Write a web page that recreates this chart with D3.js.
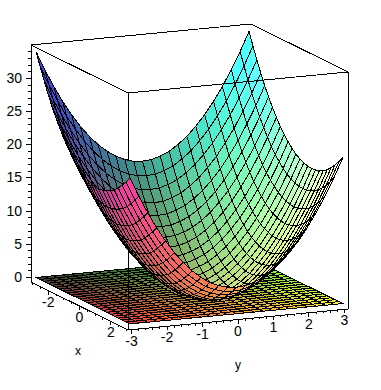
<!DOCTYPE html>
<html>
<head>
<meta charset="utf-8">
<script src="https://cdn.jsdelivr.net/npm/d3@7"></script>
<style>
  html, body { margin: 0; padding: 0; background: #fff; }
  svg { display: block; }
  text { font-family: "Liberation Sans", Arial, sans-serif; fill: #000; }
  .tick-label { font-size: 14px; }
  .axis-title { font-size: 12px; }
</style>
</head>
<body>
<svg id="chart" width="381" height="390"></svg>
<script>
// Paraboloid over a flat base plane, boxed 3D axes

// -----------------------------------------------------------------------------
// DATA
// -----------------------------------------------------------------------------

const xGrid = [-3, -2.75, -2.5, -2.25, -2, -1.75, -1.5, -1.25, -1, -0.75, -0.5, -0.25, 0, 0.25, 0.5, 0.75, 1, 1.25, 1.5, 1.75, 2, 2.25, 2.5, 2.75, 3];
const yGrid = [-3, -2.75, -2.5, -2.25, -2, -1.75, -1.5, -1.25, -1, -0.75, -0.5, -0.25, 0, 0.25, 0.5, 0.75, 1, 1.25, 1.5, 1.75, 2, 2.25, 2.5, 2.75, 3];

// one row per xGrid value, one column per yGrid value
const surfaceZ = [
  [34,31.1,28.5,26.1,24,22.1,20.5,19.1,18,17.1,16.5,16.1,16,16.1,16.5,17.1,18,19.1,20.5,22.1,24,26.1,28.5,31.1,34],
  [32.1,29.2,26.6,24.2,22.1,20.2,18.6,17.2,16.1,15.2,14.6,14.2,14.1,14.2,14.6,15.2,16.1,17.2,18.6,20.2,22.1,24.2,26.6,29.2,32.1],
  [30.3,27.4,24.8,22.4,20.3,18.4,16.8,15.4,14.3,13.4,12.8,12.4,12.3,12.4,12.8,13.4,14.3,15.4,16.8,18.4,20.3,22.4,24.8,27.4,30.3],
  [28.6,25.7,23.1,20.7,18.6,16.7,15.1,13.7,12.6,11.7,11.1,10.7,10.6,10.7,11.1,11.7,12.6,13.7,15.1,16.7,18.6,20.7,23.1,25.7,28.6],
  [27,24.1,21.5,19.1,17,15.1,13.5,12.1,11,10.1,9.5,9.1,9,9.1,9.5,10.1,11,12.1,13.5,15.1,17,19.1,21.5,24.1,27],
  [25.6,22.7,20.1,17.7,15.6,13.7,12.1,10.7,9.6,8.7,8.1,7.7,7.6,7.7,8.1,8.7,9.6,10.7,12.1,13.7,15.6,17.7,20.1,22.7,25.6],
  [24.3,21.4,18.8,16.4,14.3,12.4,10.8,9.4,8.3,7.4,6.8,6.4,6.3,6.4,6.8,7.4,8.3,9.4,10.8,12.4,14.3,16.4,18.8,21.4,24.3],
  [23.1,20.2,17.6,15.2,13.1,11.2,9.6,8.2,7.1,6.2,5.6,5.2,5.1,5.2,5.6,6.2,7.1,8.2,9.6,11.2,13.1,15.2,17.6,20.2,23.1],
  [22,19.1,16.5,14.1,12,10.1,8.5,7.1,6,5.1,4.5,4.1,4,4.1,4.5,5.1,6,7.1,8.5,10.1,12,14.1,16.5,19.1,22],
  [21.1,18.2,15.6,13.2,11.1,9.2,7.6,6.2,5.1,4.2,3.6,3.2,3.1,3.2,3.6,4.2,5.1,6.2,7.6,9.2,11.1,13.2,15.6,18.2,21.1],
  [20.3,17.4,14.8,12.4,10.3,8.4,6.8,5.4,4.3,3.4,2.8,2.4,2.3,2.4,2.8,3.4,4.3,5.4,6.8,8.4,10.3,12.4,14.8,17.4,20.3],
  [19.6,16.7,14.1,11.7,9.6,7.7,6.1,4.7,3.6,2.7,2.1,1.7,1.6,1.7,2.1,2.7,3.6,4.7,6.1,7.7,9.6,11.7,14.1,16.7,19.6],
  [19,16.1,13.5,11.1,9,7.1,5.5,4.1,3,2.1,1.5,1.1,1,1.1,1.5,2.1,3,4.1,5.5,7.1,9,11.1,13.5,16.1,19],
  [18.6,15.7,13.1,10.7,8.6,6.7,5.1,3.7,2.6,1.7,1.1,0.7,0.6,0.7,1.1,1.7,2.6,3.7,5.1,6.7,8.6,10.7,13.1,15.7,18.6],
  [18.3,15.4,12.8,10.4,8.3,6.4,4.8,3.4,2.3,1.4,0.8,0.4,0.3,0.4,0.8,1.4,2.3,3.4,4.8,6.4,8.3,10.4,12.8,15.4,18.3],
  [18.1,15.2,12.6,10.2,8.1,6.2,4.6,3.2,2.1,1.2,0.6,0.2,0.1,0.2,0.6,1.2,2.1,3.2,4.6,6.2,8.1,10.2,12.6,15.2,18.1],
  [18,15.1,12.5,10.1,8,6.1,4.5,3.1,2,1.1,0.5,0.1,0,0.1,0.5,1.1,2,3.1,4.5,6.1,8,10.1,12.5,15.1,18],
  [18.1,15.2,12.6,10.2,8.1,6.2,4.6,3.2,2.1,1.2,0.6,0.2,0.1,0.2,0.6,1.2,2.1,3.2,4.6,6.2,8.1,10.2,12.6,15.2,18.1],
  [18.3,15.4,12.8,10.4,8.3,6.4,4.8,3.4,2.3,1.4,0.8,0.4,0.3,0.4,0.8,1.4,2.3,3.4,4.8,6.4,8.3,10.4,12.8,15.4,18.3],
  [18.6,15.7,13.1,10.7,8.6,6.7,5.1,3.7,2.6,1.7,1.1,0.7,0.6,0.7,1.1,1.7,2.6,3.7,5.1,6.7,8.6,10.7,13.1,15.7,18.6],
  [19,16.1,13.5,11.1,9,7.1,5.5,4.1,3,2.1,1.5,1.1,1,1.1,1.5,2.1,3,4.1,5.5,7.1,9,11.1,13.5,16.1,19],
  [19.6,16.7,14.1,11.7,9.6,7.7,6.1,4.7,3.6,2.7,2.1,1.7,1.6,1.7,2.1,2.7,3.6,4.7,6.1,7.7,9.6,11.7,14.1,16.7,19.6],
  [20.3,17.4,14.8,12.4,10.3,8.4,6.8,5.4,4.3,3.4,2.8,2.4,2.3,2.4,2.8,3.4,4.3,5.4,6.8,8.4,10.3,12.4,14.8,17.4,20.3],
  [21.1,18.2,15.6,13.2,11.1,9.2,7.6,6.2,5.1,4.2,3.6,3.2,3.1,3.2,3.6,4.2,5.1,6.2,7.6,9.2,11.1,13.2,15.6,18.2,21.1],
  [22,19.1,16.5,14.1,12,10.1,8.5,7.1,6,5.1,4.5,4.1,4,4.1,4.5,5.1,6,7.1,8.5,10.1,12,14.1,16.5,19.1,22]
];
const planeZ = 0;

const xTicks = [-2, 0, 2];
const xMinorTicks = [-3, -2.5, -1.5, -1, -0.5, 0.5, 1, 1.5, 2.5, 3];
const yTicks = [-3, -2, -1, 0, 1, 2, 3];
const yMinorTicks = [-2.8, -2.6, -2.4, -2.2, -1.8, -1.6, -1.4, -1.2, -0.8, -0.6, -0.4, -0.2, 0.2, 0.4, 0.6, 0.8, 1.2, 1.4, 1.6, 1.8, 2.2, 2.4, 2.6, 2.8];
const zTicks = [0, 5, 10, 15, 20, 25, 30];
const zMinorTicks = [1, 2, 3, 4, 6, 7, 8, 9, 11, 12, 13, 14, 16, 17, 18, 19, 21, 22, 23, 24, 26, 27, 28, 29, 31, 32, 33, 34];

const xRange = [-3.1, 3.1];
const yRange = [-3.1, 3.1];
const zRange = [-0.75, 34.95];

// -----------------------------------------------------------------------------
// PROJECTION
// -----------------------------------------------------------------------------

const originX = 31, originY = 282;

const xToPx = d3.scaleLinear().domain(xRange).range([0, 97]);
const xToPy = d3.scaleLinear().domain(xRange).range([0, 48]);
const yToPx = d3.scaleLinear().domain(yRange).range([0, 220]);
const yToPy = d3.scaleLinear().domain(yRange).range([0, -21]);
const zToPy = d3.scaleLinear().domain(zRange).range([originY, 45]);

function project(x, y, z) {
  return [originX + xToPx(x) + yToPx(y), zToPy(z) + xToPy(x) + yToPy(y)];
}

// colour channels follow x, y and z
const red = d3.scaleLinear().domain([-3, 3]).range([60, 255]);
const green = d3.scaleLinear().domain([-3, 3]).range([60, 245]);
const blue = d3.scaleLinear().domain([0, 34]).range([55, 240]);

// surface gets a soft light from the -y, +z side; the plane is left flat
function cellColor(x, y, z, lit) {
  return d3.rgb(red(x) + 22 * lit, green(y) + 50 * lit, blue(z) + 72 * lit).formatHex();
}

function lightOn(c, zAt) {
  // normal from the cell sides, in data units
  const [i, j] = c;
  const dx = 0.25, dy = 0.25;
  const dzdx = (zAt(i + 1, j) + zAt(i + 1, j + 1) - zAt(i, j) - zAt(i, j + 1)) / (2 * dx);
  const dzdy = (zAt(i, j + 1) + zAt(i + 1, j + 1) - zAt(i, j) - zAt(i + 1, j)) / (2 * dy);
  const len = Math.hypot(dzdx, dzdy, 1);
  return Math.max(0, (1 + dzdy) * Math.SQRT1_2 / len);
}

// far corner first: x ascending, y descending, so nearer cells paint over
function buildCells(zAt, useLight) {
  const cells = [];
  for (let i = 0; i < xGrid.length - 1; i++) {
    for (let j = yGrid.length - 2; j >= 0; j--) {
      const corners = [[i, j], [i + 1, j], [i + 1, j + 1], [i, j + 1]];
      cells.push({
        points: corners.map(c => project(xGrid[c[0]], yGrid[c[1]], zAt(c[0], c[1]))),
        color: cellColor(
          d3.mean(corners, c => xGrid[c[0]]),
          d3.mean(corners, c => yGrid[c[1]]),
          d3.mean(corners, c => zAt(c[0], c[1])),
          useLight ? lightOn([i, j], zAt) : 0)
      });
    }
  }
  return cells;
}

// -----------------------------------------------------------------------------
// DRAW
// -----------------------------------------------------------------------------

const svg = d3.select('#chart');
const polygon = d3.line();

function drawCells(cls, cells) {
  svg.append('g').attr('class', cls)
    .selectAll('path')
    .data(cells)
    .enter()
    .append('path')
    .attr('d', d => polygon(d.points) + 'Z')
    .attr('fill', d => d.color)
    .attr('stroke', '#000')
    .attr('stroke-width', 1)
    .attr('shape-rendering', 'crispEdges');
}

function drawEdge(a, b) {
  const p = project(a[0], a[1], a[2]), q = project(b[0], b[1], b[2]);
  svg.append('line')
    .attr('x1', p[0]).attr('y1', p[1]).attr('x2', q[0]).attr('y2', q[1])
    .attr('stroke', '#000').attr('stroke-width', 1).attr('shape-rendering', 'crispEdges');
}

const [x0, x1] = xRange, [y0, y1] = yRange, [z0, z1] = zRange;

drawCells('plane', buildCells(() => planeZ, false));

// bottom edges and the front upright go under the surface
drawEdge([x0, y0, z0], [x1, y0, z0]);
drawEdge([x1, y0, z0], [x1, y1, z0]);
drawEdge([x1, y0, z0], [x1, y0, z1]);

drawCells('surface', buildCells((i, j) => surfaceZ[i][j], true));

// top of the box and the two outer uprights
drawEdge([x0, y0, z1], [x1, y0, z1]);
drawEdge([x1, y0, z1], [x1, y1, z1]);
drawEdge([x1, y1, z1], [x0, y1, z1]);
drawEdge([x0, y1, z1], [x0, y0, z1]);
drawEdge([x1, y1, z0], [x1, y1, z1]);

// z axis
const zAxisG = svg.append('g').attr('transform', `translate(${originX},0)`);
zAxisG.call(d3.axisLeft(zToPy).tickValues(zMinorTicks).tickSize(3).tickFormat('').tickSizeOuter(0));
zAxisG.append('g').call(d3.axisLeft(zToPy).tickValues(zTicks).tickSize(5).tickFormat(d3.format('d')).tickSizeOuter(0));
zAxisG.selectAll('line, path').attr('shape-rendering', 'crispEdges');
zAxisG.selectAll('text').attr('class', 'tick-label').attr('font-size', null).attr('fill', null).attr('dx', '-1');
zAxisG.selectAll('g').attr('font-family', null).attr('font-size', null);

// x and y axes run along the bottom edges, ticks hang straight down
function drawTicks(values, at, len) {
  svg.append('g').selectAll('line')
    .data(values)
    .enter()
    .append('line')
    .attr('x1', d => at(d)[0]).attr('y1', d => at(d)[1])
    .attr('x2', d => at(d)[0]).attr('y2', d => at(d)[1] + len)
    .attr('stroke', '#000').attr('shape-rendering', 'crispEdges');
}

function drawLabels(values, at) {
  svg.append('g').selectAll('text')
    .data(values)
    .enter()
    .append('text')
    .attr('class', 'tick-label')
    .attr('x', d => at(d)[0])
    .attr('y', d => at(d)[1] + 16)
    .attr('text-anchor', 'middle')
    .text(d => d);
}

const onXAxis = x => project(x, y0, z0);
const onYAxis = y => project(x1, y, z0);

drawTicks(xMinorTicks, onXAxis, 2);
drawTicks(xTicks, onXAxis, 4);
drawTicks(yMinorTicks, onYAxis, 2);
drawTicks(yTicks, onYAxis, 4);
drawLabels(xTicks, onXAxis);
drawLabels(yTicks, onYAxis);

svg.append('text').attr('class', 'axis-title').attr('x', 78).attr('y', 355).attr('text-anchor', 'middle').text('x');
svg.append('text').attr('class', 'axis-title').attr('x', 238).attr('y', 369).attr('text-anchor', 'middle').text('y');
</script>
</body>
</html>
